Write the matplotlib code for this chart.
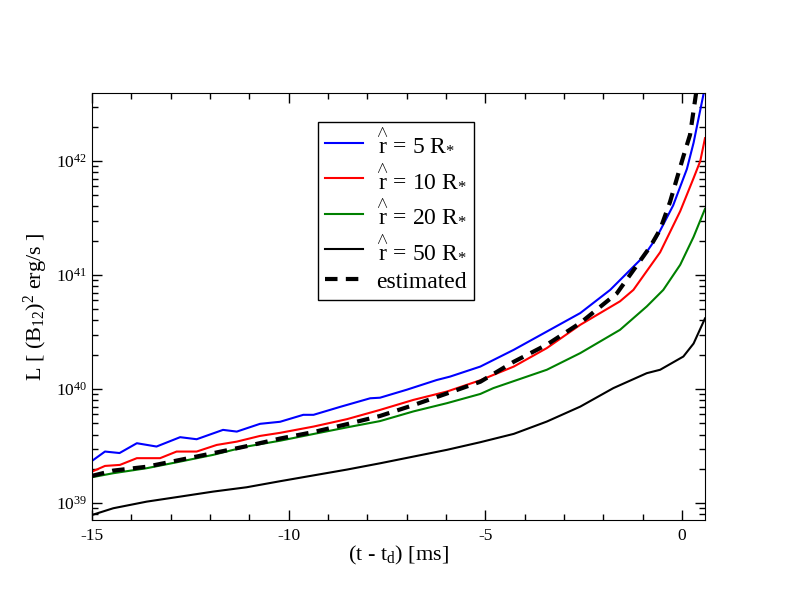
import numpy as np
import matplotlib
matplotlib.use("Agg")
import matplotlib.pyplot as plt

plt.rcParams['font.family'] = 'serif'
plt.rcParams['font.serif'] = ['Liberation Serif', 'DejaVu Serif']
plt.rcParams['mathtext.fontset'] = 'custom'
plt.rcParams['mathtext.rm'] = 'Liberation Serif'
plt.rcParams['mathtext.it'] = 'Liberation Serif:italic'
plt.rcParams['mathtext.bf'] = 'Liberation Serif:bold'
plt.rcParams['axes.unicode_minus'] = False

# values: time in ms, log10 of L in erg/s
t_5 = [-15.0, -14.67, -14.3, -13.86, -13.36, -12.76, -12.34, -11.67, -11.32, -10.73,
       -10.22, -9.63, -9.37, -8.69, -7.93, -7.68, -7.0, -6.24, -5.9, -5.13,
       -4.28, -3.44, -2.59, -1.83, -0.98, -0.65, -0.23, 0.12, 0.29, 0.58]
logL_5 = [39.371, 39.453, 39.44, 39.526, 39.497, 39.579, 39.561, 39.643, 39.628, 39.696,
          39.714, 39.775, 39.775, 39.845, 39.92, 39.925, 39.995, 40.08, 40.11, 40.198,
          40.345, 40.505, 40.667, 40.87, 41.163, 41.33, 41.61, 41.93, 42.16, 42.65]

t_10 = [-15.0, -14.67, -14.29, -13.86, -13.27, -12.85, -12.34, -11.83, -11.32, -10.73,
        -10.22, -9.37, -8.52, -7.68, -6.83, -5.98, -5.13, -4.28, -3.44, -2.59,
        -1.58, -1.24, -0.56, -0.05, 0.29, 0.46, 0.58]
logL_10 = [39.277, 39.327, 39.336, 39.395, 39.395, 39.453, 39.453, 39.511, 39.540, 39.59,
           39.617, 39.672, 39.737, 39.818, 39.906, 39.979, 40.078, 40.198, 40.36, 40.564,
           40.77, 40.87, 41.2, 41.56, 41.85, 42.0, 42.2]

t_20 = [-15.0, -14.46, -13.61, -12.76, -11.92, -11.07, -10.22, -9.37, -8.52, -7.68,
        -6.83, -5.98, -5.13, -4.8, -3.44, -2.59, -1.58, -0.9, -0.48, -0.05, 0.29, 0.58]
logL_20 = [39.228, 39.263, 39.307, 39.365, 39.424, 39.497, 39.548, 39.607, 39.665, 39.72,
           39.805, 39.877, 39.958, 40.009, 40.17, 40.316, 40.52, 40.725, 40.87, 41.09,
           41.335, 41.58]

t_50 = [-15.0, -14.46, -13.61, -12.76, -11.92, -11.07, -10.22, -9.37, -8.52, -7.68,
        -6.83, -5.98, -5.13, -4.28, -3.44, -2.59, -1.75, -0.9, -0.56, 0.03, 0.29, 0.58]
logL_50 = [38.897, 38.956, 39.014, 39.058, 39.102, 39.14, 39.193, 39.244, 39.295, 39.35,
           39.409, 39.468, 39.535, 39.608, 39.716, 39.847, 40.009, 40.14, 40.17, 40.286,
           40.40, 40.62]

t_est = [-15.0, -14.46, -13.61, -12.76, -11.92, -11.07, -10.22, -9.37, -8.52, -7.68,
         -6.83, -5.98, -5.13, -4.28, -3.44, -2.59, -1.66, -0.81, -0.56, -0.31, 0.03,
         0.2, 0.36, 0.42]
logL_est = [39.24, 39.286, 39.32, 39.38, 39.439, 39.50, 39.567, 39.624, 39.693, 39.765,
            39.86, 39.962, 40.065, 40.24, 40.39, 40.58, 40.84, 41.25, 41.40, 41.64, 42.04,
            42.23, 42.61, 42.75]

hat_r = r'$\overset{\wedge}{\mathrm{r}}$'
labels = [hat_r + r' = 5 R$_{*}$', hat_r + r' = 10 R$_{*}$',
          hat_r + r' = 20 R$_{*}$', hat_r + r' = 50 R$_{*}$', 'estimated']

fig = plt.figure(figsize=(7.92, 6.12), dpi=100)
ax = fig.add_axes([92/792, 1-520/612, (705-92)/792, (520-93)/612])

ax.plot(t_5, 10**np.array(logL_5), color='#0000ff', lw=1.5, label=labels[0])
ax.plot(t_10, 10**np.array(logL_10), color='#ff0000', lw=1.5, label=labels[1])
ax.plot(t_20, 10**np.array(logL_20), color='#008000', lw=1.5, label=labels[2])
ax.plot(t_50, 10**np.array(logL_50), color='black', lw=1.5, label=labels[3])
ax.plot(t_est, 10**np.array(logL_est), color='black', lw=3, dashes=(3, 2), label=labels[4])

ax.set_yscale('log')
ax.set_xlim(-15, 0.58)
ax.set_ylim(10**38.853, 10**42.596)
ax.set_xticks([-15, -10, -5, 0])
ax.set_xticks(np.arange(-15, 1, 1), minor=True)
ax.tick_params(which='both', direction='in', top=True, right=True, labelsize=12.5)
ax.tick_params(which='major', length=7, width=1)
ax.tick_params(which='minor', length=4.5, width=1)
ax.tick_params(axis='x', pad=6)

ax.set_xlabel(r'(t - t$_\mathrm{d}$) [ms]', fontsize=16, labelpad=0)
ax.set_ylabel(r'L [ (B$_{12}$)$^2$ erg/s ]', fontsize=16, labelpad=4)

leg = ax.legend(loc='upper left', bbox_to_anchor=(318/792, 1-122/612),
                bbox_transform=fig.transFigure, borderaxespad=0, fontsize=17,
                fancybox=False, framealpha=1, edgecolor='black', handlelength=1.6,
                handletextpad=0.55, labelspacing=0.36, borderpad=0.3)
leg.get_frame().set_linewidth(1)

fig.savefig('out.png', dpi=100)
